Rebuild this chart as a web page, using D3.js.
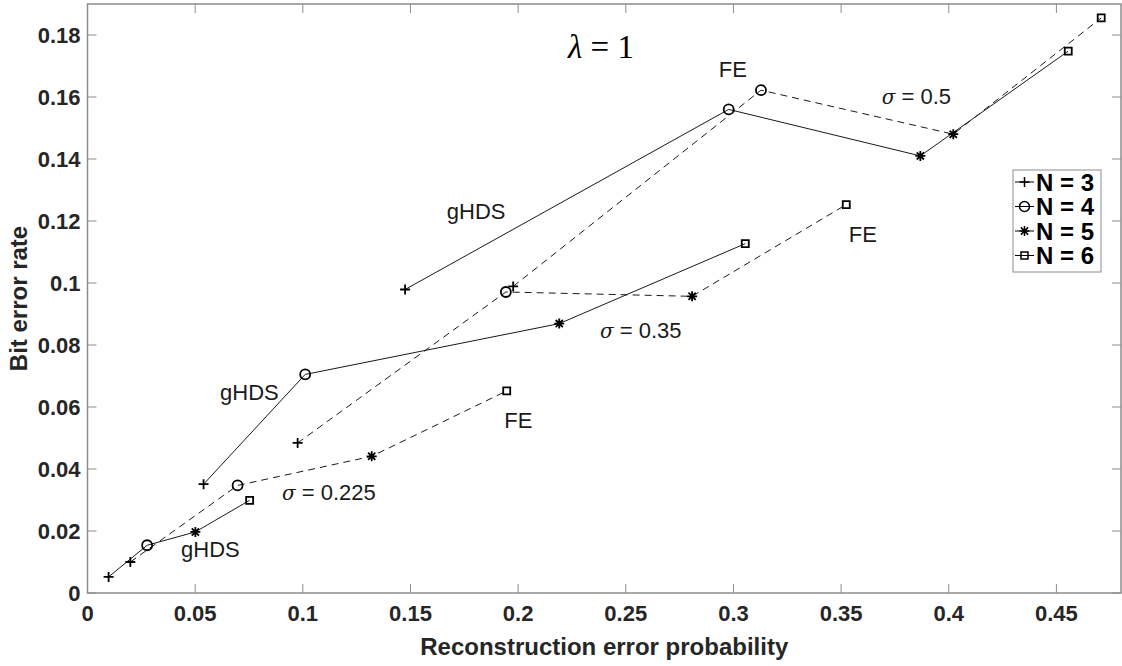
<!DOCTYPE html>
<html>
<head>
<meta charset="utf-8">
<script src="https://cdn.jsdelivr.net/npm/d3@7"></script>
<style>
  body { margin: 0; background: #fff; }
  svg { display: block; }
  .tick-label { font-family: "Liberation Sans", Arial, sans-serif; font-weight: bold; font-size: 22px; fill: #262626; }
  .axis-title { font-family: "Liberation Sans", Arial, sans-serif; font-weight: bold; font-size: 24px; fill: #262626; }
  .note { font-family: "Liberation Sans", Arial, sans-serif; font-size: 22px; fill: #1a1a1a; }
  .legend-text { font-family: "Liberation Sans", Arial, sans-serif; font-weight: bold; font-size: 24px; fill: #000; }
</style>
</head>
<body>
<div id="chart"></div>
<script>
// N values (one marker per N) and the three noise levels
const nValues = [3, 4, 5, 6];
const markerKinds = ['plus', 'circle', 'star', 'square'];

// gHDS curves (solid), points ordered N = 3..6
const ghds225X = [0.0098, 0.0277, 0.0501, 0.0753];
const ghds225Y = [0.0052, 0.0154, 0.0197, 0.0299];
const ghds35X = [0.0539, 0.1011, 0.2191, 0.3055];
const ghds35Y = [0.0351, 0.0705, 0.0869, 0.1127];
const ghds5X = [0.1475, 0.2978, 0.3868, 0.4555];
const ghds5Y = [0.0979, 0.1560, 0.1410, 0.1748];

// FE curves (dashed)
const fe225X = [0.0199, 0.0697, 0.1320, 0.1947];
const fe225Y = [0.0100, 0.0347, 0.0441, 0.0652];
const fe35X = [0.0976, 0.1943, 0.2808, 0.3524];
const fe35Y = [0.0484, 0.0971, 0.0957, 0.1253];
const fe5X = [0.1977, 0.3128, 0.4021, 0.4708];
const fe5Y = [0.0989, 0.1622, 0.1480, 0.1855];

// axis ticks
const xTicks = [0, 0.05, 0.1, 0.15, 0.2, 0.25, 0.3, 0.35, 0.4, 0.45];
const yTicks = [0, 0.02, 0.04, 0.06, 0.08, 0.1, 0.12, 0.14, 0.16, 0.18];

// text notes placed in data units
const noteText = ['FE', 'gHDS', 'FE', 'gHDS', 'FE', 'gHDS'];
const noteX = [0.2997, 0.1805, 0.3601, 0.0752, 0.2001, 0.0571];
const noteY = [0.1665, 0.1208, 0.1131, 0.0623, 0.0532, 0.0116];
const sigmaLabels = ['0.5', '0.35', '0.225'];
const sigmaX = [0.3689, 0.2380, 0.0903];
const sigmaY = [0.1577, 0.0823, 0.0300];

class ErrorChart {
  constructor(_config) {
    this.config = {
      parentElement: _config.parentElement,
      containerWidth: 1122,
      containerHeight: 666,
      margin: {top: 4, right: 1, bottom: 73, left: 87.5}
    };
    this.initVis();
  }

  initVis() {
    let vis = this;
    const m = vis.config.margin;
    vis.width = vis.config.containerWidth - m.left - m.right;
    vis.height = vis.config.containerHeight - m.top - m.bottom;

    vis.svg = d3.select(vis.config.parentElement).append('svg')
        .attr('width', vis.config.containerWidth)
        .attr('height', vis.config.containerHeight);

    vis.g = vis.svg.append('g')
        .attr('transform', `translate(${m.left},${m.top})`);

    vis.xScale = d3.scaleLinear().domain([0, 0.48]).range([0, vis.width]);
    vis.yScale = d3.scaleLinear().domain([0, 0.19]).range([vis.height, 0]);

    vis.renderAxes();
    vis.renderSeries();
    vis.renderNotes();
    vis.renderLegend();
  }

  renderAxes() {
    let vis = this;
    const fmt = v => String(+v.toFixed(3));
    const axisColor = '#8c8c8c';
    const tickLen = 9;

    // box
    vis.g.append('rect')
        .attr('width', vis.width).attr('height', vis.height)
        .attr('fill', 'none').attr('stroke', axisColor).attr('stroke-width', 1.5);

    // ticks on all four sides, pointing in
    xTicks.forEach(t => {
      const x = vis.xScale(t);
      vis.g.append('line').attr('x1', x).attr('x2', x).attr('y1', vis.height).attr('y2', vis.height - tickLen)
          .attr('stroke', axisColor);
      vis.g.append('line').attr('x1', x).attr('x2', x).attr('y1', 0).attr('y2', tickLen)
          .attr('stroke', axisColor);
      vis.g.append('text').attr('class', 'tick-label')
          .attr('x', x).attr('y', vis.height + 28)
          .attr('text-anchor', 'middle').text(fmt(t));
    });
    yTicks.forEach(t => {
      const y = vis.yScale(t);
      vis.g.append('line').attr('x1', 0).attr('x2', tickLen).attr('y1', y).attr('y2', y)
          .attr('stroke', axisColor);
      vis.g.append('line').attr('x1', vis.width).attr('x2', vis.width - tickLen).attr('y1', y).attr('y2', y)
          .attr('stroke', axisColor);
      vis.g.append('text').attr('class', 'tick-label')
          .attr('x', -7).attr('y', y + 8)
          .attr('text-anchor', 'end').text(fmt(t));
    });

    vis.g.append('text').attr('class', 'axis-title')
        .attr('x', vis.width / 2).attr('y', vis.height + 62)
        .attr('text-anchor', 'middle').text('Reconstruction error probability');

    vis.g.append('text').attr('class', 'axis-title')
        .attr('transform', `translate(${-61},${vis.height / 2}) rotate(-90)`)
        .attr('text-anchor', 'middle').text('Bit error rate');
  }

  markerPath(kind) {
    switch (kind) {
      case 'plus': return 'M-5,0H5M0,-5V5';
      case 'circle': return 'M5,0A5,5 0 1,1 -5,0A5,5 0 1,1 5,0';
      case 'star': return 'M-5,0H5M0,-5V5M-3.6,-3.6L3.6,3.6M-3.6,3.6L3.6,-3.6';
      default: return 'M-3.5,-3.5H3.5V3.5H-3.5Z';
    }
  }

  renderSeries() {
    let vis = this;
    const series = [
      {xs: ghds225X, ys: ghds225Y, dash: null},
      {xs: ghds35X, ys: ghds35Y, dash: null},
      {xs: ghds5X, ys: ghds5Y, dash: null},
      {xs: fe225X, ys: fe225Y, dash: '7,5'},
      {xs: fe35X, ys: fe35Y, dash: '7,5'},
      {xs: fe5X, ys: fe5Y, dash: '7,5'}
    ];

    const line = d3.line()
        .x(d => vis.xScale(d[0]))
        .y(d => vis.yScale(d[1]));

    series.forEach(s => {
      const pts = s.xs.map((x, i) => [x, s.ys[i]]);
      vis.g.append('path')
          .datum(pts)
          .attr('d', line)
          .attr('fill', 'none')
          .attr('stroke', '#1a1a1a')
          .attr('stroke-width', 1)
          .attr('stroke-dasharray', s.dash);

      vis.g.selectAll(null)
          .data(pts)
          .enter().append('path')
          .attr('transform', d => `translate(${vis.xScale(d[0])},${vis.yScale(d[1])})`)
          .attr('d', (d, i) => vis.markerPath(markerKinds[i]))
          .attr('fill', 'none')
          .attr('stroke', '#000')
          .attr('stroke-width', 1.8);
    });
  }

  renderNotes() {
    let vis = this;

    noteText.forEach((t, i) => {
      vis.g.append('text').attr('class', 'note')
          .attr('x', vis.xScale(noteX[i])).attr('y', vis.yScale(noteY[i]))
          .attr('text-anchor', 'middle').text(t);
    });

    sigmaLabels.forEach((t, i) => {
      const txt = vis.g.append('text').attr('class', 'note')
          .attr('x', vis.xScale(sigmaX[i])).attr('y', vis.yScale(sigmaY[i]));
      txt.append('tspan')
          .style('font-family', '"DejaVu Serif", "Liberation Serif", serif')
          .style('font-style', 'italic')
          .style('font-size', '20px')
          .text('σ');
      txt.append('tspan').text(' = ' + t);
    });

    // lambda title
    const title = vis.g.append('text')
        .attr('x', vis.xScale(0.2385)).attr('y', vis.yScale(0.1725))
        .attr('text-anchor', 'middle')
        .style('font-family', '"Liberation Serif", "DejaVu Serif", serif')
        .style('font-size', '33px')
        .attr('fill', '#000');
    title.append('tspan').style('font-style', 'italic').text('λ');
    title.append('tspan').text(' = 1');
  }

  renderLegend() {
    let vis = this;
    const lx = 1013 - vis.config.margin.left;
    const ly = 170 - vis.config.margin.top;
    const rowH = 24.5;

    const legend = vis.g.append('g')
        .attr('transform', `translate(${lx},${ly})`);

    legend.append('rect')
        .attr('width', 88).attr('height', 102)
        .attr('fill', '#fff').attr('stroke', '#8c8c8c').attr('stroke-width', 1);

    nValues.forEach((n, i) => {
      const y = 12 + i * rowH;
      legend.append('line')
          .attr('x1', 2).attr('x2', 21).attr('y1', y).attr('y2', y)
          .attr('stroke', '#000').attr('stroke-width', 1);
      legend.append('path')
          .attr('transform', `translate(11.5,${y})`)
          .attr('d', vis.markerPath(markerKinds[i]))
          .attr('fill', 'none').attr('stroke', '#000').attr('stroke-width', 1.5);
      legend.append('text').attr('class', 'legend-text')
          .attr('x', 23).attr('y', y + 8.5)
          .text(`N = ${n}`);
    });
  }
}

new ErrorChart({parentElement: '#chart'});
</script>
</body>
</html>
